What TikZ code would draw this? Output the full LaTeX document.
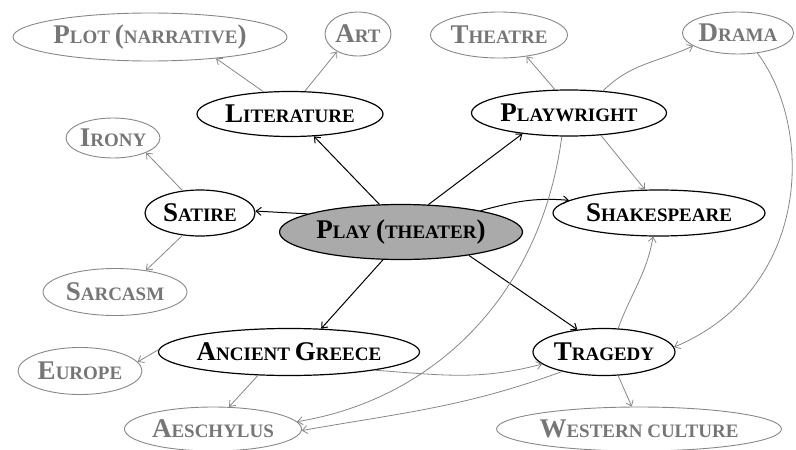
\documentclass[tikz,border=0pt]{standalone}
\usepackage{fontspec}
\setmainfont{Liberation Serif}
\usetikzlibrary{shapes.geometric,arrows.meta}
\definecolor{gtext}{RGB}{118,118,118}
\definecolor{gline}{RGB}{135,135,135}
\definecolor{playfill}{RGB}{170,170,170}
\newcommand\bigf{\fontsize{27pt}{27pt}\selectfont}
\newcommand\smf{\fontsize{19pt}{19pt}\selectfont}
\begin{document}
\begin{tikzpicture}[x=1pt,y=-1pt,
 mainnode/.style={ellipse, draw=black, line width=1.2pt, inner sep=0pt, font=\bfseries},
 subnode/.style={ellipse, draw=gline, line width=0.9pt, inner sep=0pt, text=gtext, font=\bfseries},
 blk/.style={draw=black, line width=1pt, -{Straight Barb[length=5pt,width=8pt]}},
 gry/.style={draw=gline, line width=0.8pt, -{Straight Barb[length=5pt,width=8pt]}}]
\useasboundingbox (0,0) rectangle (796,450);
% nodes
\node[subnode, minimum width=274pt, minimum height=48pt] (plot) at (150,37) {\bigf P\smf LOT \bigf(\smf NARRATIVE\bigf)};
\node[subnode, minimum width=66pt, minimum height=44pt] (art) at (358,34) {\bigf A\smf RT};
\node[subnode, minimum width=135pt, minimum height=46pt] (theatre) at (499,35) {\bigf T\smf HEATRE};
\node[subnode, minimum width=108pt, minimum height=42pt] (drama) at (738,33) {\bigf D\smf RAMA};
\node[mainnode, minimum width=186pt, minimum height=45pt] (literature) at (290,114) {\bigf L\smf ITERATURE};
\node[mainnode, minimum width=195pt, minimum height=46pt] (playwright) at (569,113) {\bigf P\smf LAYWRIGHT};
\node[subnode, minimum width=92pt, minimum height=40pt] (irony) at (113,138) {\bigf I\smf RONY};
\node[mainnode, minimum width=110pt, minimum height=46pt] (satire) at (200,213) {\bigf S\smf ATIRE};
\node[mainnode, fill=playfill, minimum width=243pt, minimum height=55pt] (play) at (401,232) {\bigf P\smf LAY \bigf(\smf THEATER\bigf)};
\node[mainnode, minimum width=212pt, minimum height=46pt] (shakespeare) at (659,213) {\bigf S\smf HAKESPEARE};
\node[subnode, minimum width=144pt, minimum height=47pt] (sarcasm) at (115,292) {\bigf S\smf ARCASM};
\node[mainnode, minimum width=258pt, minimum height=47pt] (greece) at (289,352) {\bigf A\smf NCIENT \bigf G\smf REECE};
\node[subnode, minimum width=124pt, minimum height=47pt] (europe) at (80,371) {\bigf E\smf UROPE};
\node[mainnode, minimum width=142pt, minimum height=47pt] (tragedy) at (604,352) {\bigf T\smf RAGEDY};
\node[subnode, minimum width=177pt, minimum height=44pt] (aeschylus) at (213,429) {\bigf A\smf ESCHYLUS};
\node[subnode, minimum width=285pt, minimum height=44pt] (western) at (639,429) {\bigf W\smf ESTERN CULTURE};
% black edges
\draw[blk] (play.128) -- (literature.-43);
\draw[blk] (play.45) -- (playwright.204);
\draw[blk] (play.169) -- (satire.2);
\draw[blk] (play.15) to[out=15,in=175] (shakespeare.172);
\draw[blk] (play.237) -- (greece.36);
\draw[blk] (play.-19) -- (tragedy.140);
% gray edges
\draw[gry] (literature.140) -- (plot.-18);
\draw[gry] (literature.57) -- (art.220);
\draw[gry] (satire.128) -- (irony.-24);
\draw[gry] (satire.232) -- (sarcasm.35);
\draw[gry] (playwright.121) -- (theatre.-38);
\draw[gry] (playwright.33) to[out=45,in=205] (drama.196);
\draw[gry] (playwright.-35) -- (shakespeare.121);
\draw[gry] (playwright.253) .. controls (540,300) and (430,400) .. (aeschylus.5);
\draw[gry] (greece.179) -- (europe.9);
\draw[gry] (greece.217) -- (aeschylus.54);
\draw[gry] (greece.-12) to[out=-4,in=195] (tragedy.191);
\draw[gry] (tragedy.205) to[out=200,in=10] (aeschylus.-1);
\draw[gry] (tragedy.59) to[out=70,in=260] (shakespeare.256);
\draw[gry] (tragedy.-59) -- (western.108);
\draw[gry] (drama.-46) .. controls (815,130) and (810,290) .. (tragedy.4);
\end{tikzpicture}
\end{document}
